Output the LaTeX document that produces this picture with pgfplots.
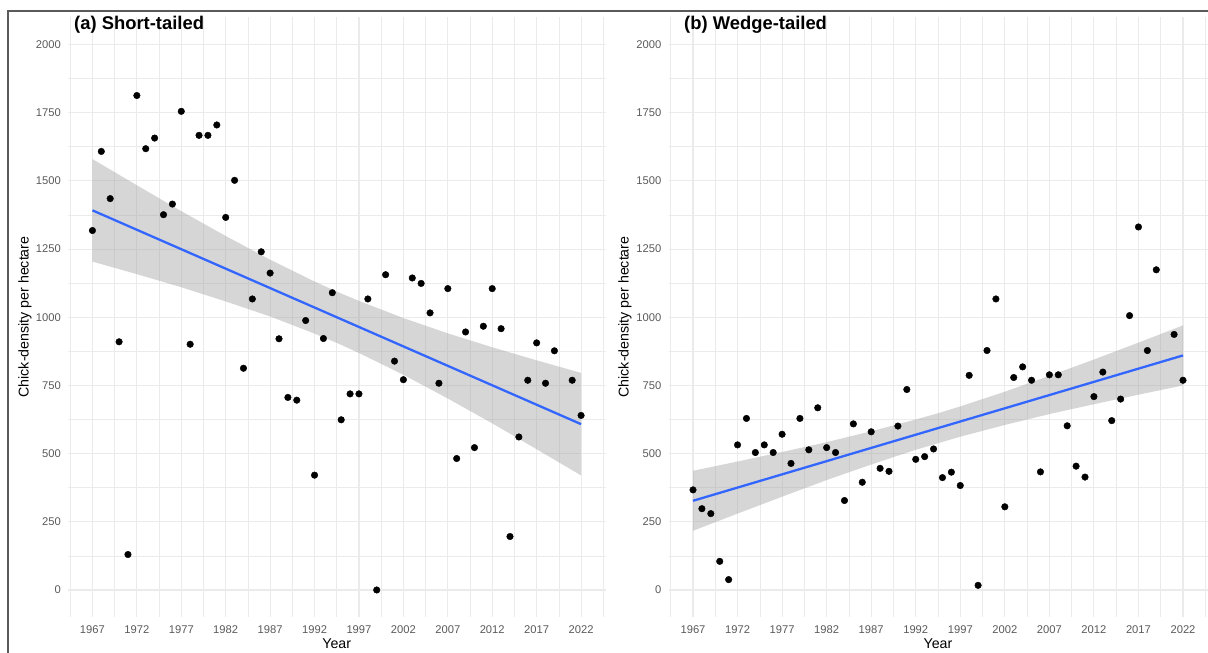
\documentclass[border=0pt]{standalone}
\usepackage{fontspec}
\setmainfont{Liberation Sans}
\usepackage{pgfplots}
\pgfplotsset{compat=1.18}
\definecolor{gridc}{HTML}{EBEBEB}
\definecolor{tickc}{HTML}{5A5A5A}
\definecolor{lineblue}{HTML}{3366FF}
\definecolor{bandc}{HTML}{999999}
\definecolor{framec}{HTML}{5A5A5A}
\pgfplotsset{chick/.style={
  scale only axis, height=600pt,
  xmin=1964.25, xmax=2024.75, ymin=-100, ymax=2100,
  xtick={1967,1972,...,2022}, minor xtick={1964.5,1969.5,...,2024.5},
  ytick={0,250,...,2000}, minor ytick={125,375,...,1875},
  grid=both,
  major grid style={gridc, line width=1.1pt},
  minor grid style={gridc, line width=0.6pt},
  axis line style={draw=none}, tick style={draw=none},
  /pgf/number format/1000 sep={},
  /pgf/number format/assume math mode=true,
  ticklabel style={font=\fontsize{11.2}{13}\selectfont, text=tickc},
  xticklabel style={anchor=north, inner sep=0pt, yshift=-8pt},
  yticklabel style={anchor=east, inner sep=0pt, xshift=-7pt},
}}
\begin{document}
\begin{tikzpicture}
\path[use as bounding box] (0pt,0pt) rectangle (1208pt,653pt);
% ---------- (a) Short-tailed ----------
\begin{axis}[chick, at={(68pt,35.75pt)}, anchor=south west, width=537.5pt]
\addplot[only marks, mark=*, mark size=3.3pt, black] table {
x y
1967 1318
1968 1608
1969 1435
1970 910
1971 130
1972 1813
1973 1618
1974 1657
1975 1376
1976 1415
1977 1755
1978 901
1979 1667
1980 1667
1981 1705
1982 1366
1983 1502
1984 813
1985 1067
1986 1240
1987 1162
1988 921
1989 706
1990 696
1991 988
1992 421
1993 922
1994 1090
1995 624
1996 719
1997 719
1998 1067
1999 0
2000 1156
2001 839
2002 771
2003 1144
2004 1124
2005 1016
2006 758
2007 1105
2008 482
2009 946
2010 522
2011 967
2012 1105
2013 958
2014 196
2015 561
2016 769
2017 906
2018 758
2019 877
2021 769
2022 640
};
\addplot[draw=none, fill=bandc, fill opacity=0.4] coordinates {
(1967,1580)(1972,1484)(1977,1389)(1982,1298)(1987,1211)(1992,1131)(1994.5,1094)(1997,1060)(2002,997)(2007,941)(2012,890)(2017,842)(2022,796)
(2022,420)(2017,516)(2012,611)(2007,702)(2002,789)(1997,869)(1994.5,906)(1992,940)(1987,1003)(1982,1058)(1977,1110)(1972,1158)(1967,1204)
} --cycle;
\addplot[lineblue, line width=2.3pt] coordinates {(1967,1392) (2022,608)};
\end{axis}
% ---------- (b) Wedge-tailed ----------
\begin{axis}[chick, at={(668.5pt,35.75pt)}, anchor=south west, width=539pt]
\addplot[only marks, mark=*, mark size=3.3pt, black] table {
x y
1967 367
1968 298
1969 280
1970 105
1971 38
1972 532
1973 629
1974 504
1975 532
1976 504
1977 571
1978 464
1979 629
1980 514
1981 668
1982 522
1983 504
1984 328
1985 609
1986 395
1987 580
1988 446
1989 435
1990 601
1991 735
1992 479
1993 489
1994 517
1995 412
1996 432
1997 383
1998 787
1999 17
2000 878
2001 1067
2002 305
2003 779
2004 818
2005 769
2006 433
2007 789
2008 789
2009 602
2010 454
2011 414
2012 709
2013 799
2014 621
2015 700
2016 1006
2017 1331
2018 878
2019 1174
2021 937
2022 769
};
\addplot[draw=none, fill=bandc, fill opacity=0.4] coordinates {
(1967,437)(1972,471)(1977,506)(1982,542)(1987,582)(1992,625)(1994.5,648)(1997,673)(2002,727)(2007,785)(2012,845)(2017,907)(2022,970)
(2022,750)(2017,716)(2012,681)(2007,645)(2002,605)(1997,562)(1994.5,538)(1992,514)(1987,460)(1982,403)(1977,342)(1972,280)(1967,217)
} --cycle;
\addplot[lineblue, line width=2.3pt] coordinates {(1967,327) (2022,860)};
\end{axis}
% ---------- titles and labels ----------
\node[anchor=base west, inner sep=0pt, font=\fontsize{18.4}{20}\selectfont\bfseries] at (74pt,623pt) {(a) Short-tailed};
\node[anchor=base west, inner sep=0pt, font=\fontsize{18.4}{20}\selectfont\bfseries] at (684pt,623pt) {(b) Wedge-tailed};
\node[rotate=90, inner sep=0pt, font=\fontsize{14.2}{16}\selectfont] at (25pt,336pt) {Chick-density per hectare};
\node[rotate=90, inner sep=0pt, font=\fontsize{14.2}{16}\selectfont] at (625pt,336pt) {Chick-density per hectare};
\node[anchor=base, inner sep=0pt, font=\fontsize{14.2}{16}\selectfont] at (336.75pt,4pt) {Year};
\node[anchor=base, inner sep=0pt, font=\fontsize{14.2}{16}\selectfont] at (938pt,4pt) {Year};
\draw[framec, line width=1.5pt] (8pt,-2pt) -- (8pt,642pt) -- (1212pt,642pt);
\end{tikzpicture}
\end{document}
